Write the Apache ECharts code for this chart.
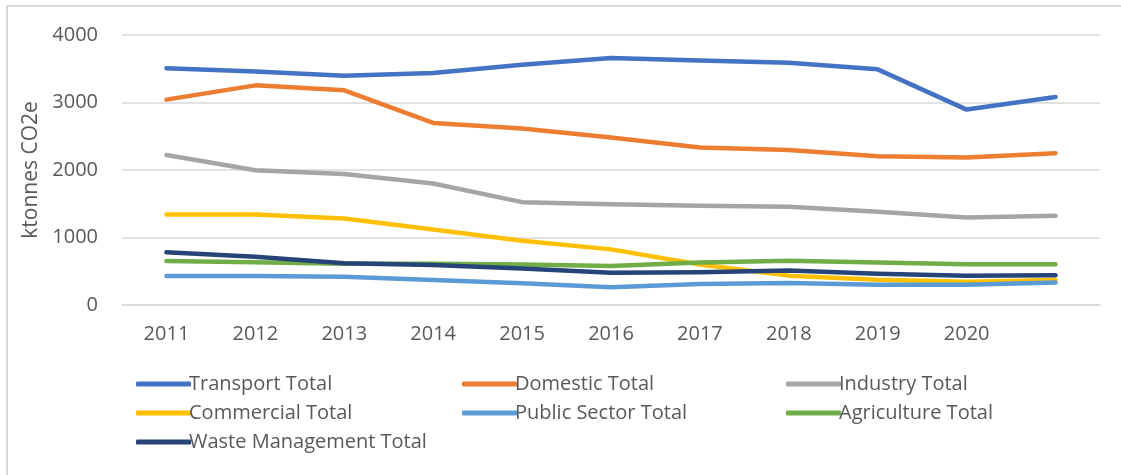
<!DOCTYPE html>
<html>
<head>
<meta charset="utf-8">
<script src="https://cdn.jsdelivr.net/npm/echarts@6/dist/echarts.min.js"></script>
<style>
  html, body { margin: 0; padding: 0; background: #fff; }
  #frame { position: absolute; left: 6px; top: 5px; width: 1120px; height: 480px; border: 2px solid #d9d9d9; box-sizing: border-box; }
  #chart { position: absolute; left: 0; top: 0; width: 1121px; height: 475px; }
</style>
</head>
<body>
<div id="frame"></div>
<div id="chart"></div>
<script>
const years = ["2011", "2012", "2013", "2014", "2015", "2016", "2017", "2018", "2019", "2020", ""];

const transport = [3506, 3460, 3395, 3437, 3560, 3658, 3624, 3590, 3491, 2895, 3081];
const domestic = [3043, 3254, 3180, 2697, 2614, 2481, 2333, 2298, 2204, 2185, 2249];
const industry = [2223, 1997, 1942, 1800, 1524, 1494, 1469, 1454, 1380, 1297, 1321];
const commercial = [1342, 1342, 1282, 1120, 951, 824, 600, 435, 375, 345, 370];
const publicSector = [429, 429, 419, 370, 321, 262, 311, 325, 300, 300, 332];
const agriculture = [651, 632, 610, 612, 600, 577, 630, 655, 628, 604, 604];
const waste = [780, 715, 617, 592, 542, 478, 484, 512, 462, 432, 441];

const yTicks = { min: 0, max: 4000, interval: 1000 };

const FONT = "'Open Sans', sans-serif";
const TEXT = "#595959";
const GRID = "#d9d9d9";

const seriesDefs = [
  { name: "Transport Total", data: transport, color: "#4472C4" },
  { name: "Domestic Total", data: domestic, color: "#ED7D31" },
  { name: "Industry Total", data: industry, color: "#A5A5A5" },
  { name: "Commercial Total", data: commercial, color: "#FFC000" },
  { name: "Public Sector Total", data: publicSector, color: "#5B9BD5" },
  { name: "Agriculture Total", data: agriculture, color: "#70AD47" },
  { name: "Waste Management Total", data: waste, color: "#264478" },
];

const series = seriesDefs.map(s => ({
  name: s.name,
  type: "line",
  data: s.data,
  symbol: "none",
  color: s.color,
  lineStyle: { width: 4.5, color: s.color, cap: "round", join: "round" },
}));

// legend in three columns like the excel one
function legendCol(left, names) {
  return {
    left, top: 369,
    orient: "vertical",
    itemWidth: 55, itemHeight: 5, itemGap: 9,
    icon: "roundRect",
    data: names,
    textStyle: { fontFamily: FONT, fontSize: 20, color: TEXT, padding: [0, 0, 0, -7] },
  };
}

const chart = echarts.init(document.getElementById("chart"), null, { renderer: "canvas" });
chart.setOption({
  animation: false,
  grid: { left: 122, right: 21, top: 35, bottom: 170 },
  legend: [
    legendCol(131, ["Transport Total", "Commercial Total", "Waste Management Total"]),
    legendCol(457, ["Domestic Total", "Public Sector Total"]),
    legendCol(781, ["Industry Total", "Agriculture Total"]),
  ],
  xAxis: {
    type: "category",
    data: years,
    boundaryGap: true,
    axisTick: { show: false },
    axisLine: { lineStyle: { color: GRID, width: 1.5 } },
    axisLabel: { fontFamily: FONT, fontSize: 20, color: TEXT, margin: 19, interval: 0 },
  },
  yAxis: {
    type: "value",
    min: yTicks.min, max: yTicks.max, interval: yTicks.interval,
    name: "ktonnes CO2e",
    nameLocation: "middle",
    nameGap: 60,
    nameTextStyle: { fontFamily: FONT, fontSize: 21, color: TEXT },
    axisLabel: { fontFamily: FONT, fontSize: 20, color: TEXT, margin: 24, formatter: v => String(v) },
    splitLine: { lineStyle: { color: GRID, width: 1.5 } },
  },
  series,
});
</script>
</body>
</html>
